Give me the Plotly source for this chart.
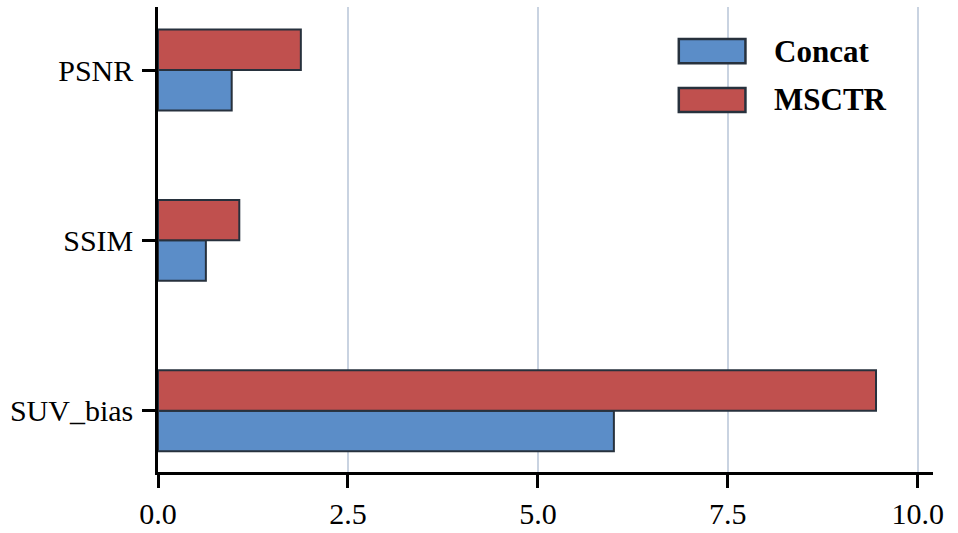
import plotly.graph_objects as go

categories = ["SUV_bias", "SSIM", "PSNR"]
concat_vals = [6.0, 0.63, 0.97]
msctr_vals = [9.45, 1.07, 1.88]
series_names = ["Concat", "MSCTR"]
x_ticks = [0, 2.5, 5, 7.5, 10]
x_tick_labels = ["0.0", "2.5", "5.0", "7.5", "10.0"]

colors = ["#5b8dc8", "#c0504e"]
edge = "#27313d"
serif = "Liberation Serif, Times New Roman, serif"

fig = go.Figure()
for name, vals, col in zip(series_names, [concat_vals, msctr_vals], colors):
    fig.add_trace(go.Bar(
        y=categories, x=vals, name=name, orientation="h",
        marker=dict(color=col, line=dict(color=edge, width=2)),
        showlegend=False,
    ))

# custom legend (wide swatches)
legend_y = [0.905, 0.80]
for name, col, yy in zip(series_names, colors, legend_y):
    fig.add_shape(type="rect", xref="paper", yref="paper",
                  x0=0.672, x1=0.758, y0=yy - 0.026, y1=yy + 0.026,
                  fillcolor=col, line=dict(color=edge, width=2.5))
    fig.add_annotation(xref="paper", yref="paper", x=0.792, y=yy,
                       text="<b>" + name + "</b>", showarrow=False,
                       xanchor="left", yanchor="middle",
                       font=dict(family=serif, size=31, color="black"))

fig.update_layout(
    width=958, height=533,
    margin=dict(l=158, r=25, t=7, b=61, autoexpand=False),
    paper_bgcolor="white", plot_bgcolor="white",
    barmode="group", bargap=0.525, bargroupgap=0,
    font=dict(family=serif, size=30, color="black"),
    xaxis=dict(range=[0, 10.2], tickvals=x_ticks, ticktext=x_tick_labels,
               showgrid=True, gridcolor="#c9d3e1", gridwidth=2,
               showline=True, linecolor="black", linewidth=2.5,
               ticks="outside", ticklen=13, tickwidth=2.5, tickcolor="black",
               zeroline=False, automargin=False),
    yaxis=dict(range=[-0.36, 2.37], showgrid=False,
               showline=True, linecolor="black", linewidth=2.5,
               ticks="outside", ticklen=13, tickwidth=2.5, tickcolor="black",
               ticklabelstandoff=3, zeroline=False, automargin=False),
)

fig.write_html("out.html")
